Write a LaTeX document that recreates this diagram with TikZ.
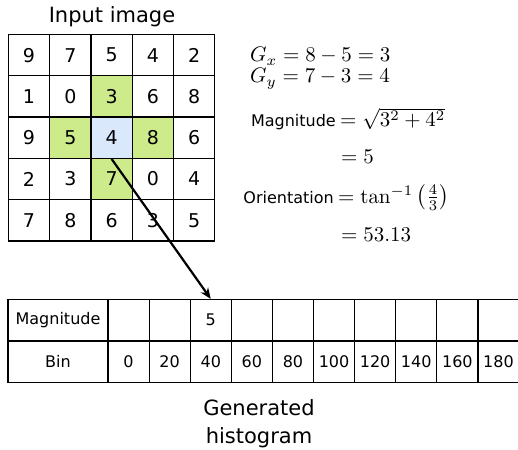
\documentclass[tikz,border=0pt]{standalone}
\usepackage[no-math]{fontspec}
\setmainfont{DejaVu Sans}
\usetikzlibrary{arrows.meta}
\definecolor{cellgreen}{HTML}{CDEB8B}
\definecolor{cellblue}{HTML}{DAE8FC}
\newcommand{\bigmath}[1]{\scalebox{2.1}{\fontsize{10}{12}\selectfont$#1$}}
\tikzset{
  cell/.style={draw,line width=1.2pt,minimum size=41.3pt,inner sep=0pt,font=\fontsize{19}{22}\selectfont},
  hcell/.style={draw,line width=1.2pt,minimum width=41.1pt,minimum height=41.5pt,inner sep=0pt,font=\fontsize{16}{19}\selectfont},
  hhead/.style={hcell,minimum width=100pt},
  lbl/.style={anchor=base east,inner sep=0pt,font=\fontsize{16}{19}\selectfont},
  eqn/.style={anchor=base west,inner sep=0pt}
}
\begin{document}
\begin{tikzpicture}[x=1pt,y=-1pt]
  \useasboundingbox (0,0) rectangle (518,449);
  \node[anchor=base,font=\fontsize{21}{25}\selectfont] (title) at (112,23) {Input image};
  \draw
    (29,55.1) node[cell] (c00){9}
    (70.3,55.1) node[cell] (c01){7}
    (111.6,55.1) node[cell] (c02){5}
    (152.9,55.1) node[cell] (c03){4}
    (194.2,55.1) node[cell] (c04){2}
    (29,96.4) node[cell] (c10){1}
    (70.3,96.4) node[cell] (c11){0}
    (111.6,96.4) node[cell,fill=cellgreen] (c12){3}
    (152.9,96.4) node[cell] (c13){6}
    (194.2,96.4) node[cell] (c14){8}
    (29,137.7) node[cell] (c20){9}
    (70.3,137.7) node[cell,fill=cellgreen] (c21){5}
    (111.6,137.7) node[cell,fill=cellblue] (c22){4}
    (152.9,137.7) node[cell,fill=cellgreen] (c23){8}
    (194.2,137.7) node[cell] (c24){6}
    (29,179) node[cell] (c30){2}
    (70.3,179) node[cell] (c31){3}
    (111.6,179) node[cell,fill=cellgreen] (c32){7}
    (152.9,179) node[cell] (c33){0}
    (194.2,179) node[cell] (c34){4}
    (29,220.3) node[cell] (c40){7}
    (70.3,220.3) node[cell] (c41){8}
    (111.6,220.3) node[cell] (c42){6}
    (152.9,220.3) node[cell] (c43){3}
    (194.2,220.3) node[cell] (c44){5};
  \node[eqn] (gx) at (250,62) {\bigmath{G_x = 8-5 = 3}};
  \node[eqn] (gy) at (250,83) {\bigmath{G_y = 7-3 = 4}};
  \node[lbl] (maglbl) at (336,127) {Magnitude};
  \node[eqn] (magval) at (340,127) {\bigmath{=\sqrt{3^2+4^2}}};
  \node[eqn] (magres) at (341,163) {\bigmath{=5}};
  \node[lbl] (orilbl) at (334,203) {Orientation};
  \node[eqn] (orival) at (338,203) {\bigmath{=\tan^{-1}\left(\frac{4}{3}\right)}};
  \node[eqn] (orires) at (341,241) {\bigmath{=53.13}};
  \draw
    (58,320.25) node[hhead] (maghead){Magnitude}
    (128.55,320.25) node[hcell] (m0){}
    (169.65,320.25) node[hcell] (m20){}
    (210.75,320.25) node[hcell] (m40){5}
    (251.85,320.25) node[hcell] (m60){}
    (292.95,320.25) node[hcell] (m80){}
    (334.05,320.25) node[hcell] (m100){}
    (375.15,320.25) node[hcell] (m120){}
    (416.25,320.25) node[hcell] (m140){}
    (457.35,320.25) node[hcell] (m160){}
    (498.45,320.25) node[hcell] (m180){}
    (58,361.75) node[hhead] (binhead){Bin}
    (128.55,361.75) node[hcell] (b0){0}
    (169.65,361.75) node[hcell] (b20){20}
    (210.75,361.75) node[hcell] (b40){40}
    (251.85,361.75) node[hcell] (b60){60}
    (292.95,361.75) node[hcell] (b80){80}
    (334.05,361.75) node[hcell] (b100){100}
    (375.15,361.75) node[hcell] (b120){120}
    (416.25,361.75) node[hcell] (b140){140}
    (457.35,361.75) node[hcell] (b160){160}
    (498.45,361.75) node[hcell] (b180){180};
  \draw[line width=2.2pt,-{Stealth[length=11pt,width=9pt]}] (c22.south) -- (m40.north);
  \node[anchor=north,inner sep=0pt,align=center,font=\fontsize{21}{28}\selectfont] (caption) at (259,399) {Generated\\histogram};
\end{tikzpicture}
\end{document}
